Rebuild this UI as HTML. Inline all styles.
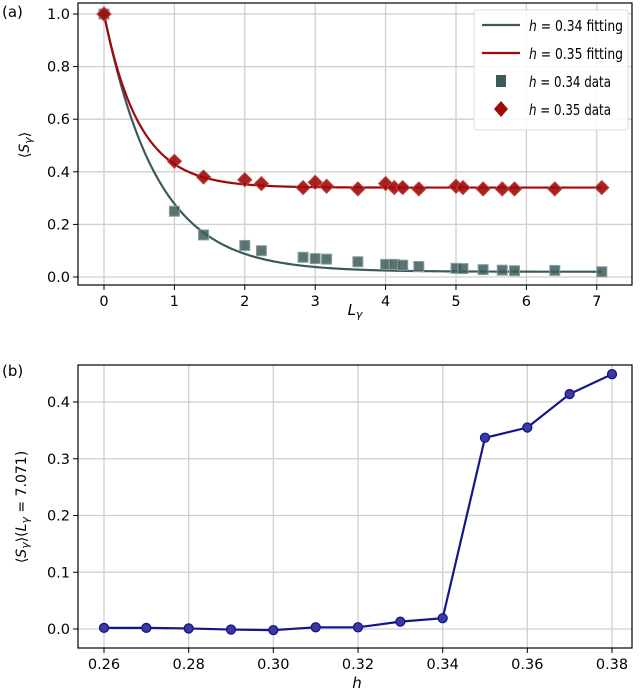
<!DOCTYPE html>
<html><head><meta charset="utf-8"><style>
body{margin:0;background:#fff}
svg{display:block;font-family:"DejaVu Sans","Liberation Sans",sans-serif}
</style></head><body>
<svg id="c" width="640" height="691" viewBox="0 0 640 691" xmlns="http://www.w3.org/2000/svg"></svg>
<script>
// ---- panel (a) data ----
const L = [0,1,1.414,2,2.236,2.828,3,3.162,3.606,4,4.123,4.243,4.472,5,5.099,5.385,5.657,5.831,6.403,7.071];
const s034 = [1.0,0.25,0.16,0.12,0.10,0.075,0.07,0.068,0.058,0.048,0.048,0.045,0.04,0.033,0.032,0.028,0.026,0.024,0.025,0.02];
const s035 = [1.0,0.44,0.38,0.37,0.355,0.34,0.36,0.345,0.335,0.355,0.34,0.34,0.335,0.345,0.34,0.335,0.335,0.335,0.335,0.34];
const fit034 = [0.02,0.98,0.75]; // offset, amplitude, decay length
const fit035 = [0.34,0.66,0.5];
const xTicksA = [0,1,2,3,4,5,6,7];
const yTicksA = [0.0,0.2,0.4,0.6,0.8,1.0];
// ---- panel (b) data ----
const hVals = [0.26,0.27,0.28,0.29,0.30,0.31,0.32,0.33,0.34,0.35,0.36,0.37,0.38];
const sVals = [0.002,0.002,0.001,-0.001,-0.002,0.003,0.003,0.013,0.019,0.337,0.355,0.414,0.449];
const xTicksB = [0.26,0.28,0.30,0.32,0.34,0.36,0.38];
const yTicksB = [0.0,0.1,0.2,0.3,0.4];

const NS="http://www.w3.org/2000/svg";
const svg=document.getElementById('c');
function mk(tag,attrs,parent){const e=document.createElementNS(NS,tag);for(const k in attrs)e.setAttribute(k,attrs[k]);(parent||svg).appendChild(e);return e;}

const axA={x0:78,x1:632,y0:3,y1:285};
const xA=v=>104+v*70.4, yA=v=>277-v*263;
const axB={x0:78,x1:632,y0:365,y1:648};
const xB=v=>104+(v-0.26)/0.12*508, yB=v=>629-v*567.5;

function grid(ax,xt,xf,yt,yf,fmtx,fmty,name){
  const g=mk('g',{});
  
  
  xt.forEach(t=>{mk('line',{x1:xf(t),x2:xf(t),y1:ax.y0,y2:ax.y1,stroke:'#cfcfcf','stroke-width':1.3},g);
    mk('line',{x1:xf(t),x2:xf(t),y1:ax.y1,y2:ax.y1+5,stroke:'#000','stroke-width':1},g);
    const tx=mk('text',{x:xf(t),y:ax.y1+21,'text-anchor':'middle','font-size':14.5},g);tx.textContent=fmtx(t);
    });
  yt.forEach(t=>{mk('line',{x1:ax.x0,x2:ax.x1,y1:yf(t),y2:yf(t),stroke:'#cfcfcf','stroke-width':1.3},g);
    mk('line',{x1:ax.x0-5,x2:ax.x0,y1:yf(t),y2:yf(t),stroke:'#000','stroke-width':1},g);
    const tx=mk('text',{x:ax.x0-8,y:yf(t)+5,'text-anchor':'end','font-size':14.5},g);tx.textContent=fmty(t);
    });
}
function frame(ax,name){const r=mk('rect',{x:ax.x0,y:ax.y0,width:ax.x1-ax.x0,height:ax.y1-ax.y0,fill:'none',stroke:'#000','stroke-width':1.2});
  }

grid(axA,xTicksA,xA,yTicksA,yA,t=>String(t),t=>t.toFixed(1),'panel-a');
grid(axB,xTicksB,xB,yTicksB,yB,t=>t.toFixed(2),t=>t.toFixed(1),'panel-b');

function fitPath(p){let d='';for(let i=0;i<=300;i++){const l=7.071*i/300;const v=p[0]+p[1]*Math.exp(-l/p[2]);d+=(i?'L':'M')+xA(l).toFixed(2)+','+yA(v).toFixed(2);}return d;}
const f1=mk('path',{d:fitPath(fit034),fill:'none',stroke:'#3d5a5b','stroke-width':2.2});

const f2=mk('path',{d:fitPath(fit035),fill:'none',stroke:'#9e0a0a','stroke-width':2.2});

L.forEach((l,i)=>{const x=xA(l),y=yA(s034[i]);
  const r=mk('rect',{x:x-5,y:y-5,width:10,height:10,fill:'#3d5a5b','fill-opacity':0.85,stroke:'#8aa0a0','stroke-width':1});
  });
L.forEach((l,i)=>{const x=xA(l),y=yA(s035[i]);
  const p=mk('polygon',{points:`${x},${y-7} ${x+7},${y} ${x},${y+7} ${x-7},${y}`,fill:'#9e0a0a','fill-opacity':0.9,stroke:'#c04040','stroke-width':1});
  });
frame(axA,'panel-a');

const lg=mk('g',{});

mk('rect',{x:474,y:10,width:154,height:120,rx:3,fill:'#fff','fill-opacity':0.85,stroke:'#ddd'},lg);
const items=[['line','#3d5a5b','0.34 fitting',94],['line','#9e0a0a','0.35 fitting',94],['sq','#3d5a5b','0.34 data',82],['dia','#9e0a0a','0.35 data',82]];
items.forEach((it,i)=>{const y=25+i*28;
  const e=mk('g',{},lg);
  if(it[0]=='line')mk('line',{x1:482,x2:520,y1:y,y2:y,stroke:it[1],'stroke-width':2.2},e);
  else if(it[0]=='sq')mk('rect',{x:496,y:y-6,width:10,height:12,fill:it[1]},e);
  else mk('polygon',{points:`501,${y-8} 508,${y} 501,${y+8} 494,${y}`,fill:it[1]},e);
  const t=mk('text',{x:529,y:y+6,'font-size':15,textLength:it[3],lengthAdjust:'spacingAndGlyphs'},e);
  t.innerHTML='<tspan font-style="italic">h</tspan> = '+it[2];});

let d='';hVals.forEach((h,i)=>{d+=(i?'L':'M')+xB(h)+','+yB(sVals[i]);});
const lb=mk('path',{d:d,fill:'none',stroke:'#16168a','stroke-width':2.2});

hVals.forEach((h,i)=>{const c=mk('circle',{cx:xB(h),cy:yB(sVals[i]),r:4.5,fill:'#3a3aa0',stroke:'#16168a','stroke-width':1.3});
  });
frame(axB,'panel-b');

function txt(x,y,s,attrs,name){const t=mk('text',Object.assign({x:x,y:y,'font-size':15},attrs||{}));t.innerHTML=s;
  return t;}
txt(2,17,'(a)',{},'panel-a-label');
txt(2,376,'(b)',{},'panel-b-label');
txt(355,315,'<tspan font-style="italic">L</tspan><tspan font-size="11" dy="3" font-style="italic">γ</tspan>',{'text-anchor':'middle'},'x-axis-title-a');
txt(357,688,'<tspan font-style="italic">h</tspan>',{'text-anchor':'middle'},'x-axis-title-b');
txt(0,0,'⟨<tspan font-style="italic">S</tspan><tspan font-size="11" dy="3" font-style="italic">γ</tspan><tspan dy="-3">⟩</tspan>',{'text-anchor':'middle',transform:'translate(29,145) rotate(-90)','font-size':14},'y-axis-title-a');
txt(0,0,'⟨<tspan font-style="italic">S</tspan><tspan font-size="11" dy="3" font-style="italic">γ</tspan><tspan dy="-3">⟩(</tspan><tspan font-style="italic">L</tspan><tspan font-size="11" dy="3" font-style="italic">γ</tspan><tspan dy="-3"> = 7.071)</tspan>',{'text-anchor':'middle',transform:'translate(26,507) rotate(-90)','font-size':14},'y-axis-title-b');
</script>
</body></html>
